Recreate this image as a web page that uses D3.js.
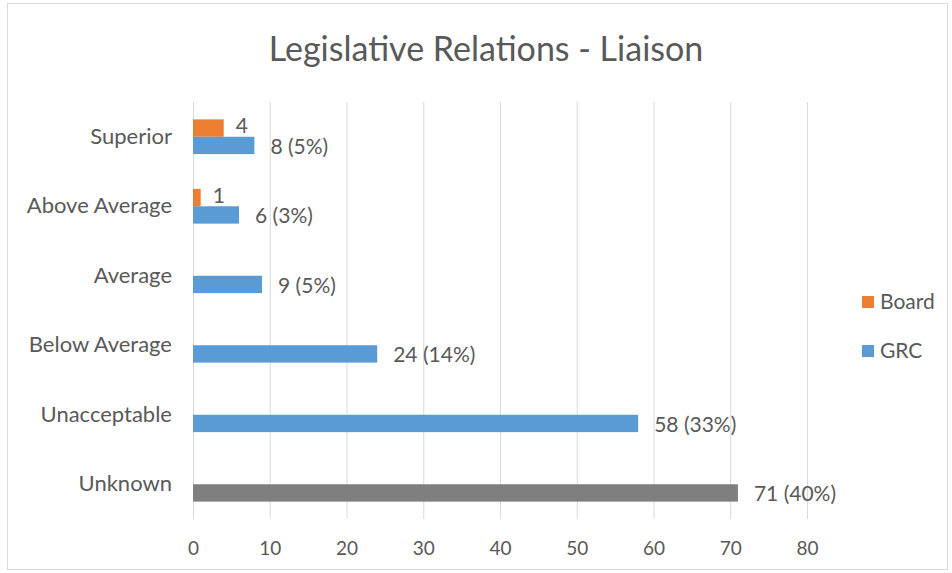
<!DOCTYPE html>
<html>
<head>
<meta charset="utf-8">
<script src="https://cdn.jsdelivr.net/npm/d3@7"></script>
<style>
  html, body { margin: 0; padding: 0; background: #fff; }
  svg { display: block; }
  text { font-family: Lato, "Open Sans", sans-serif; fill: #595959; }
</style>
</head>
<body>
<svg id="chart" width="952" height="573"></svg>
<script>
// Ratings, top to bottom
const categories = ["Superior", "Above Average", "Average", "Below Average", "Unacceptable", "Unknown"];
// Board responses (null where none)
const boardValues = [4, 1, null, null, null, null];
// GRC responses
const grcValues = [8, 6, 9, 24, 58, 71];
const xTicks = [0, 10, 20, 30, 40, 50, 60, 70, 80];
const seriesNames = ["Board", "GRC"];

const colors = { Board: "#ED7D31", GRC: "#5B9BD5", Unknown: "#7F7F7F" };

const svg = d3.select("#chart");
const W = 952, H = 573;
const plot = { left: 193, right: 807, top: 102, bottom: 519 };
const FONT = "Lato, 'Open Sans', sans-serif";

// Outer frame
svg.append("rect")
  .attr("x", 7.5).attr("y", 3.5)
  .attr("width", W - 12).attr("height", H - 7)
  .attr("fill", "#fff").attr("stroke", "#d9d9d9");

// Title
svg.append("text")
  .attr("x", 486).attr("y", 61)
  .attr("text-anchor", "middle")
  .attr("font-size", 34)
  .text("Legislative Relations - Liaison");

const x = d3.scaleLinear().domain([0, 80]).range([plot.left, plot.right]);
const y = d3.scaleBand().domain(categories).range([plot.top, plot.bottom]);
const inner = d3.scaleBand().domain(seriesNames)
  .range([0, y.bandwidth()]).paddingInner(0).paddingOuter(1);

// Vertical gridlines
svg.append("g").selectAll("line").data(xTicks).join("line")
  .attr("x1", d => x(d) + 0.5).attr("x2", d => x(d) + 0.5)
  .attr("y1", plot.top).attr("y2", plot.bottom)
  .attr("stroke", "#d9d9d9").attr("stroke-width", 1);

// X axis labels
const xAxis = d3.axisBottom(x).tickValues(xTicks).tickSize(0).tickPadding(0);
const gx = svg.append("g")
  .attr("transform", `translate(0,${plot.bottom + 22})`)
  .call(xAxis);
gx.select(".domain").remove();
gx.selectAll("text")
  .attr("font-size", 19)
  .attr("dy", "0.71em")
  .style("font-family", FONT)
  .style("fill", "#595959");

// Category labels
const yAxis = d3.axisLeft(y).tickSize(0).tickPadding(0);
const gy = svg.append("g")
  .attr("transform", `translate(${plot.left - 21},0)`)
  .call(yAxis);
gy.select(".domain").remove();
gy.selectAll("text")
  .attr("font-size", 22)
  .attr("dy", "0.32em")
  .style("font-family", FONT)
  .style("fill", "#595959");

const total = d3.sum(grcValues);
const rows = categories.map((c, i) => ({ cat: c, board: boardValues[i], grc: grcValues[i] }));

// Board bars
const boardRows = rows.filter(r => r.board != null);
svg.append("g").selectAll("rect").data(boardRows).join("rect")
  .attr("x", x(0))
  .attr("y", r => y(r.cat) + inner("Board"))
  .attr("width", r => x(r.board) - x(0))
  .attr("height", inner.bandwidth())
  .attr("fill", colors.Board);

// GRC bars
svg.append("g").selectAll("rect").data(rows).join("rect")
  .attr("x", x(0))
  .attr("y", r => y(r.cat) + inner("GRC"))
  .attr("width", r => x(r.grc) - x(0))
  .attr("height", inner.bandwidth())
  .attr("fill", r => r.cat === "Unknown" ? colors.Unknown : colors.GRC);

// Board value labels
svg.append("g").selectAll("text").data(boardRows).join("text")
  .attr("x", r => x(r.board) + 12)
  .attr("y", r => y(r.cat) + inner("Board") + inner.bandwidth() / 2 - 2)
  .attr("dy", "0.35em")
  .attr("font-size", 21)
  .text(r => r.board);

// GRC value labels with share of total
svg.append("g").selectAll("text").data(rows).join("text")
  .attr("x", r => x(r.grc) + 16)
  .attr("y", r => y(r.cat) + inner("GRC") + inner.bandwidth() / 2 + 1)
  .attr("dy", "0.35em")
  .attr("font-size", 21)
  .text(r => `${r.grc} (${Math.round(r.grc / total * 100)}%)`);

// Legend
const legend = svg.append("g").selectAll("g").data(seriesNames).join("g")
  .attr("transform", (d, i) => `translate(862,${302 + i * 49})`);
legend.append("rect")
  .attr("x", 0).attr("y", -6).attr("width", 12).attr("height", 12)
  .attr("fill", d => colors[d]);
legend.append("text")
  .attr("x", 18).attr("y", 0).attr("dy", "0.35em")
  .attr("font-size", 21)
  .text(d => d);
</script>
</body>
</html>
